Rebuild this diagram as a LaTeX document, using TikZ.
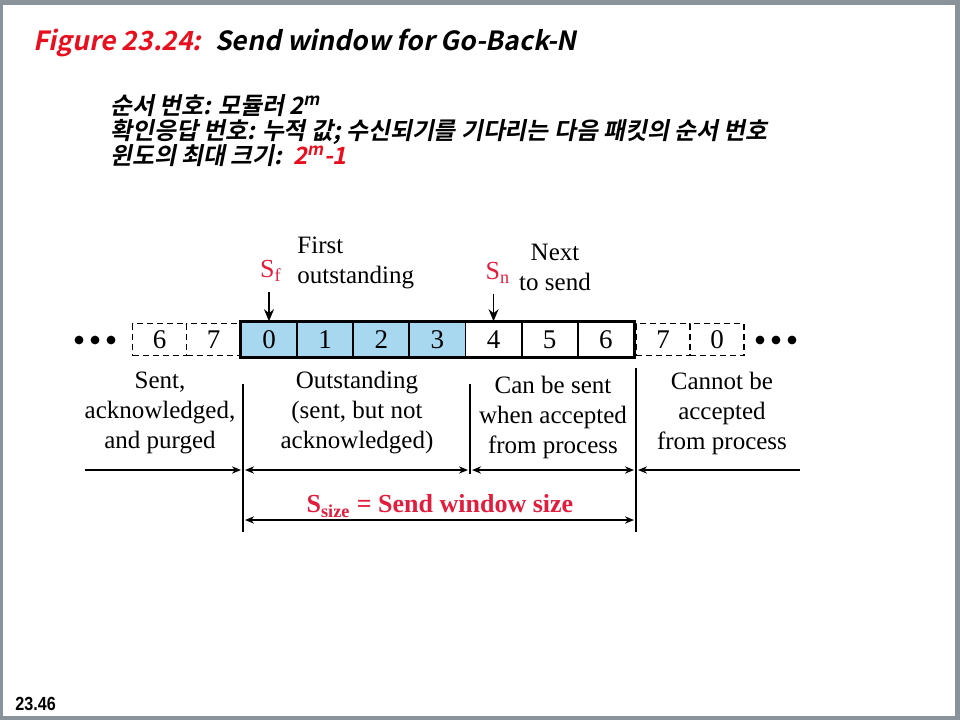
\documentclass[tikz,border=0pt]{standalone}
\usepackage{fontspec}
\setmainfont{Liberation Serif}
\newfontfamily\krfont[FakeSlant=0.2]{Noto Sans CJK KR Bold}
\newfontfamily\numfont{Liberation Sans}
\usetikzlibrary{arrows.meta}
\definecolor{winblue}{RGB}{168,216,240}
\definecolor{titlered}{RGB}{232,16,30}
\definecolor{labred}{RGB}{226,30,62}
\definecolor{framegray}{RGB}{138,146,154}
\tikzset{
  cell/.style={draw, line width=0.8pt, minimum width=28pt, minimum height=17.5pt,
    inner sep=0pt, font=\fontsize{13.5}{13.5}\selectfont},
  oldcell/.style={cell, dash pattern=on 3pt off 2pt, line width=0.6pt,
    minimum width=27pt, minimum height=16pt},
  arr/.style={-{Stealth[length=4.5pt,width=3.6pt]}, line width=0.8pt},
  ptr/.style={-{Stealth[length=6pt,width=5pt]}, line width=0.9pt, shorten <=5pt},
  darr/.style={{Stealth[length=4.5pt,width=3.6pt]}-{Stealth[length=4.5pt,width=3.6pt]},
    line width=0.8pt, shorten <=1pt, shorten >=1pt},
  lab/.style={align=center, inner sep=0pt, font=\fontsize{12.5}{15}\selectfont},
  kor/.style={anchor=base west, inner sep=0pt, font=\krfont\fontsize{11.9}{11.9}\selectfont},
}
\begin{document}
\begin{tikzpicture}[x=0.5pt,y=-0.5pt]
\useasboundingbox (0,0) rectangle (960,720);
\fill[framegray] (0,0) rectangle (960,720);
\fill[white] (3,5) rectangle (955,716);

\node[kor, text=titlered, font=\krfont\fontsize{13.2}{13.2}\selectfont] (fig) at (33,50) {Figure 23.24:};
\node[kor, font=\krfont\fontsize{13.2}{13.2}\selectfont] (title) at (215,50) {Send window for Go-Back-N};
\node[kor] (k1) at (110,114) {순서 번호: 모듈러 2\textsuperscript{m}};
\node[kor] (k2) at (110,139) {확인응답 번호: 누적 값; 수신되기를 기다리는 다음 패킷의 순서 번호};
\node[kor] (k3) at (110,164) {윈도의 최대 크기:\ \ \textcolor{titlered}{2\textsuperscript{m}-1}};

\foreach \lab/\col [count=\i from 0] in {0/winblue,1/winblue,2/winblue,3/winblue,4/white,5/white,6/white}
  \node[cell, fill=\col] (c\i) at (269+56.14*\i,339.5) {\lab};
\draw[line width=1.5pt] (c0.north west) rectangle (c6.south east);
\foreach \lab/\x/\nm in {6/159.5/l6, 7/213.5/l7, 7/663/r7, 0/717/r0}
  \node[oldcell] (\nm) at (\x,339.5) {\lab};
\foreach \x in {79,95,111,760,776,792}
  \fill (\x,340) circle (2.2pt);

\node[lab, text=labred, font=\fontsize{13}{13}\selectfont] (sf) at (271,271) {S\textsubscript{f}};
\node[lab, align=left, anchor=west] (first) at (297,263) {First\\outstanding};
\draw[ptr] (c0.north |- sf.south) -- (c0.north);
\node[lab, text=labred, font=\fontsize{13}{13}\selectfont] (sn) at (498,273) {S\textsubscript{n}};
\node[lab] (next) at (555,267) {Next\\to send};
\draw[ptr] (c4.north |- sn.south) -- (c4.north);

\node[lab] (sent) at (160,413) {Sent,\\acknowledged,\\and purged};
\node[lab] (outs) at (357,413) {Outstanding\\(sent, but not\\acknowledged)};
\node[lab] (can) at (553,417) {Can be sent\\when accepted\\from process};
\node[lab] (cannot) at (722,413) {Cannot be\\accepted\\from process};

\draw[line width=0.8pt] (243,384) -- (243,532);
\draw[line width=0.8pt] (470,384) -- (470,474);
\draw[line width=0.8pt] (636,368) -- (636,532);
\coordinate (farl) at (85,470);
\coordinate (wl) at (243,470);
\coordinate (wm) at (470,470);
\coordinate (wr) at (636,470);
\coordinate (farr) at (800,470);
\draw[arr, shorten >=1pt] (farl) -- (wl);
\draw[darr] (wl) -- (wm);
\draw[darr] (wm) -- (wr);
\draw[arr, shorten >=1pt] (farr) -- (wr);
\coordinate (sl) at (243,520);
\coordinate (sr) at (636,520);
\draw[darr] (sl) -- (sr);
\node[lab, text=labred, font=\bfseries\fontsize{13}{13}\selectfont] (size) at (440,506)
  {S\textsubscript{size} = Send window size};

\node[anchor=base west, inner sep=0pt, xscale=0.85, font=\numfont\bfseries\fontsize{9.5}{9.5}\selectfont] (page) at (15,710) {23.46};
\end{tikzpicture}
\end{document}
